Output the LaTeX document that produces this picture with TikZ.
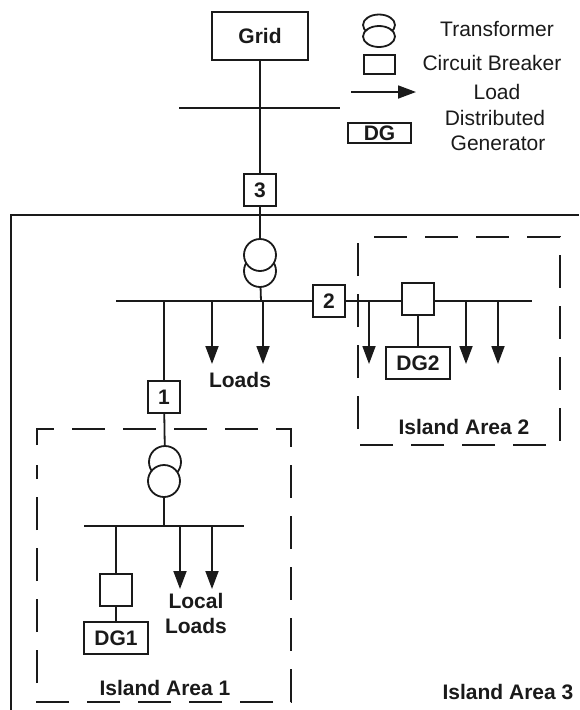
\documentclass[tikz,border=0pt]{standalone}
\usepackage{xcolor}
\usepackage{fontspec}
\setmainfont{Liberation Sans}
\usetikzlibrary{arrows.meta,shapes.geometric}
\definecolor{ink}{HTML}{1A1A1A}
\tikzset{
    wire/.style={draw=ink, line width=1.8pt},
    load/.style={wire, -{Triangle[width=13pt,length=18pt]}},
    zone/.style={draw=ink, line width=1.6pt, dash pattern=on 33pt off 18pt},
    box/.style={draw=ink, line width=1.8pt, inner sep=0pt, font=\fontsize{21}{21}\selectfont\bfseries, text=ink},
    breaker/.style={box, minimum width=32pt, minimum height=32pt},
    gen/.style={box, minimum width=64pt, minimum height=32pt},
    coil/.style={circle, draw=ink, fill=white, line width=1.8pt, minimum size=32pt, inner sep=0pt},
    legcoil/.style={ellipse, draw=ink, fill=white, line width=1.8pt, minimum width=32pt, minimum height=21pt, inner sep=0pt},
    tag/.style={font=\fontsize{21}{21}\selectfont\bfseries, text=ink},
    legend/.style={font=\fontsize{21}{21}\selectfont, text=ink}
}

\begin{document}
\begin{tikzpicture}[x=1pt,y=-1pt]
        \useasboundingbox (0,0) rectangle (579,710);

        % outer frame and island areas
        \coordinate (frameBottom) at (11,710);
        \coordinate (frameCorner) at (11,215);
        \coordinate (frameRight) at (579,215);
        \draw[wire, line width=2pt] (frameBottom) -- (frameCorner) -- (frameRight);
        \draw[zone] (37,445) -- (37,429) -- (291,429) -- (291,702) -- (37,702) -- (37,465);
        \draw[zone] (374,237) -- (560,237) -- (560,445) -- (358,445) -- (358,239);

        % upstream side
        \node (grid) [box, minimum width=96pt, minimum height=48pt] at (260,36) {Grid};
        \node (brkThree) [breaker] at (260,190) {3};
        \coordinate (busTopW) at (179,108);
        \coordinate (busTopE) at (340,108);

        % main transformer and bus
        \node (coilLow) [coil] at (260,271) {};
        \node (coilHigh) [coil] at (260,255) {};
        \node (brkTwo) [breaker] at (329,301) {2};
        \node (cbTwo) [breaker] at (418,299) {};
        \node (dgTwo) [gen] at (418,363) {DG2};
        \node (brkOne) [breaker] at (164,397) {1};
        \coordinate (busMainW) at (116,301);
        \coordinate (busMainE) at (532,301);
        \coordinate (tapFeed) at (164,301);
        \coordinate (tapCoil) at (261,301);

        % island area 1
        \node (coilOneHigh) [coil] at (165,462) {};
        \node (coilOneLow) [coil] at (164,481) {};
        \node (cbOne) [breaker] at (116,590) {};
        \node (dgOne) [gen] at (116,638) {DG1};
        \coordinate (busOneW) at (84,526);
        \coordinate (busOneE) at (244,526);
        \coordinate (tapOneCoil) at (164,526);
        \coordinate (tapOneCb) at (116,526);

        \foreach \i/\j in {grid/brkThree, busTopW/busTopE, brkThree/coilHigh, coilLow/tapCoil, busMainW/brkTwo, cbTwo/dgTwo, tapFeed/brkOne, brkOne/coilOneHigh, coilOneLow/tapOneCoil, busOneW/busOneE, tapOneCb/cbOne, cbOne/dgOne} {
            \draw[wire] (\i) -- (\j);
        }
        \draw[wire] (brkTwo) -- (cbTwo.west |- brkTwo);
        \draw[wire] (cbTwo.east |- brkTwo) -- (busMainE);

        % loads
        \foreach \x in {212,263,369,466,498} {
            \draw[load] (\x,301) -- (\x,364);
        }
        \foreach \x in {180,212} {
            \draw[load] (\x,526) -- (\x,589);
        }

        \node (loadsLabel) [tag] at (240,380) {Loads};
        \node (localLabel) [tag] at (196,601) {Local};
        \node (localLoadsLabel) [tag] at (196,626) {Loads};
        \node (areaOne) [tag] at (165,688) {Island Area 1};
        \node (areaTwo) [tag] at (464,427) {Island Area 2};
        \node (areaThree) [tag] at (508,692) {Island Area 3};

        % legend
        \node (legXfHigh) [legcoil] at (379,25) {};
        \node (legXfLow) [legcoil] at (379,36.5) {};
        \node (legCb) [box, minimum width=31pt, minimum height=19pt] at (379.5,64.5) {};
        \coordinate (legLoadA) at (351,92);
        \coordinate (legLoadB) at (416,92);
        \draw[load] (legLoadA) -- (legLoadB);
        \node (legDg) [box, minimum width=63pt, minimum height=20pt] at (379.5,133) {DG};
        \node (legXfText) [legend] at (497,29) {Transformer};
        \node (legCbText) [legend] at (492,63) {Circuit Breaker};
        \node (legLoadText) [legend] at (497,92) {Load};
        \node (legDgTextA) [legend] at (495,118) {Distributed};
        \node (legDgTextB) [legend] at (498,143) {Generator};
    \end{tikzpicture}
\end{document}
